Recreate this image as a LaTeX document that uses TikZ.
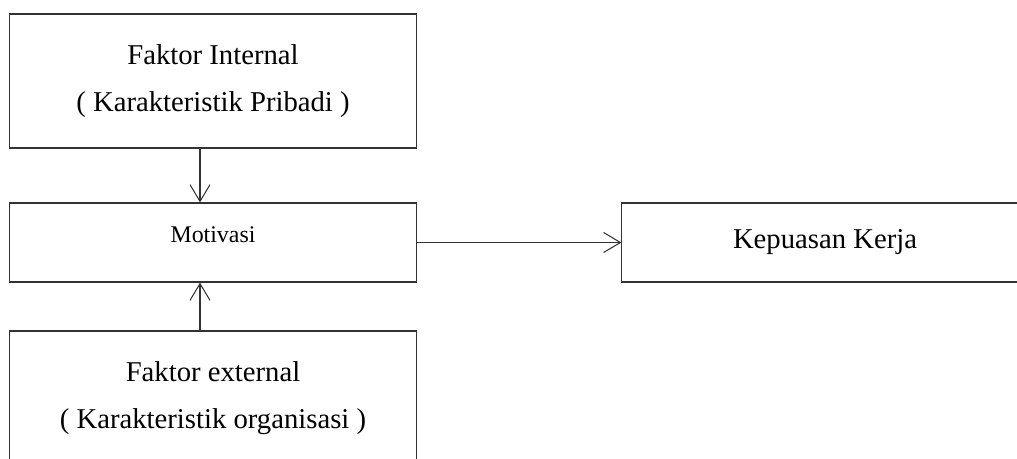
\documentclass[tikz,border=0pt]{standalone}
\usepackage{fontspec}
\setmainfont{Liberation Serif}
\usetikzlibrary{arrows.meta, positioning}
\definecolor{cline}{HTML}{333333}
\tikzset{
  every picture/.style={line width=0.75pt},
  box/.style={draw=cline, minimum width=10.15cm, minimum height=#1, align=center, inner sep=0pt,
    font=\fontsize{20.4}{33.4}\selectfont},
  box/.default=3.35cm,
  arrow/.style={-{Straight Barb[length=4.2mm, width=5mm]}, draw=cline},
}

\begin{document}
\begin{tikzpicture}[x=0.025cm, y=-0.025cm]
  \useasboundingbox (0,0) rectangle (1017,459);
  % left column
  \node[box] (internal) at (213,81) {Faktor Internal\\( Karakteristik Pribadi )};
  \node[box=1.975cm, font=\fontsize{17}{20}\selectfont, text height=0.4cm, text depth=0.42cm]
    (motivasi) at (213,242.5) {Motivasi};
  \node[box] (external) at (213,398) {Faktor external\\( Karakteristik organisasi )};
  % right
  \node[box=1.975cm] (kepuasan) at (825,242.5) {Kepuasan Kerja};
  % arrows
  \draw[arrow] ([xshift=-0.325cm]internal.south) -- ([xshift=-0.325cm]motivasi.north);
  \draw[arrow] ([xshift=-0.325cm]external.north) -- ([xshift=-0.325cm]motivasi.south);
  \draw[arrow] (motivasi.east) -- (kepuasan.west);
\end{tikzpicture}
\end{document}
